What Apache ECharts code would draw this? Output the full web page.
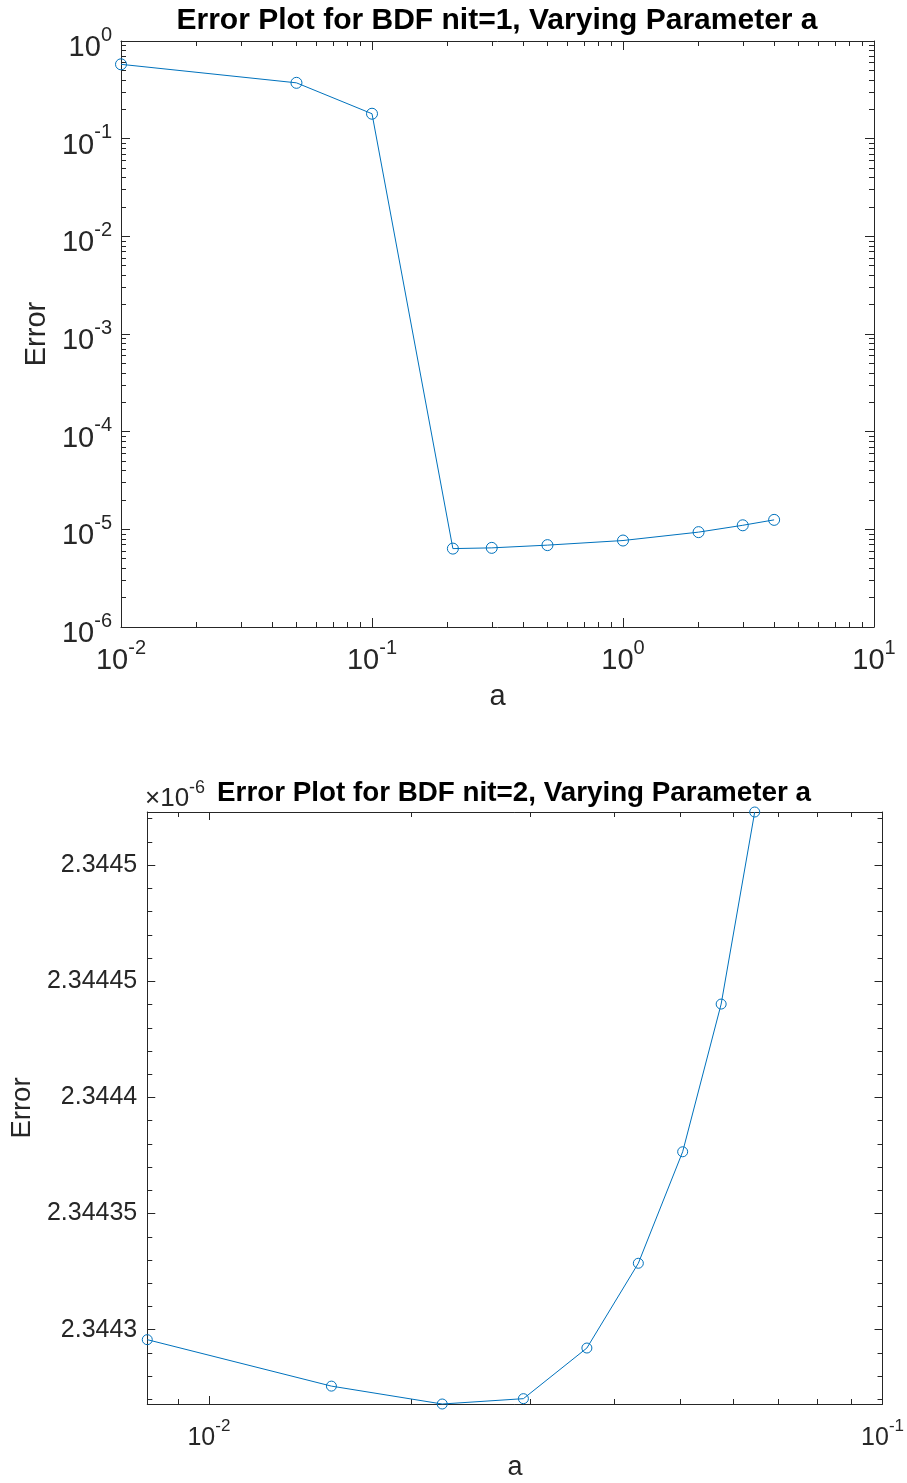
<!DOCTYPE html>
<html>
<head>
<meta charset="utf-8">
<script src="https://cdn.jsdelivr.net/npm/echarts@6/dist/echarts.min.js"></script>
<style>
  html, body { margin: 0; padding: 0; background: #ffffff; }
  #chart { width: 907px; height: 1483px; }
</style>
</head>
<body>
<div id="chart"></div>
<script>
// BDF nit=1: error against parameter a (log-log)
const aNit1 = [0.01, 0.05, 0.1, 0.21, 0.3, 0.5, 1, 2, 3, 4];
const errNit1 = [0.577, 0.373, 0.18, 6.35e-6, 6.46e-6, 6.89e-6, 7.68e-6, 9.36e-6, 1.10e-5, 1.25e-5];

// BDF nit=2: error (in units of 1e-6) against parameter a (log x)
const aNit2 = [0.0081, 0.0152, 0.0222, 0.0293, 0.0364, 0.0434, 0.0505, 0.0576, 0.0646];
const errNit2 = [2.3442957, 2.3442757, 2.3442680, 2.3442703, 2.3442921, 2.3443286, 2.3443766, 2.3444402, 2.3445229];

// Labelled ticks of the linear error axis (units of 1e-6)
const nit2YTicks = [2.3443, 2.34435, 2.3444, 2.34445, 2.3445];

const FONT = "'Liberation Sans', Arial, Helvetica, sans-serif";
const INK = '#262626';
const BLUE = '#0072BD';

// "10^k" labels on decades, nothing elsewhere
function decadeLabel(v) {
  const e = Math.log10(v);
  const r = Math.round(e);
  if (Math.abs(e - r) > 1e-6) return '';
  return '{b|10}{s|' + r + '}';
}
function decadeRich(base, sup) {
  return {
    b: { fontSize: base, lineHeight: Math.round(base * 1.6), fontFamily: FONT, color: INK },
    s: { fontSize: sup, lineHeight: Math.round(sup * 1.18), verticalAlign: 'top', fontFamily: FONT, color: INK }
  };
}

// minor tick positions (as exponents) for decades [e0, e1)
function logMinorExponents(e0, e1, lo, hi) {
  const out = [];
  for (let e = e0; e < e1; e++) {
    for (let m = 2; m <= 9; m++) {
      const p = e + Math.log10(m);
      if (p >= lo - 1e-9 && p <= hi + 1e-9) out.push(p);
    }
  }
  return out;
}

const lineStyleAxis = { color: INK, width: 1 };

function mainAxis(type, grid, position, min, max, tickLen, extra) {
  return Object.assign({
    type: type, gridIndex: grid, position: position, min: min, max: max,
    logBase: 10,
    axisLine: { show: true, onZero: false, lineStyle: lineStyleAxis },
    axisTick: { show: true, inside: true, length: tickLen, lineStyle: lineStyleAxis },
    axisLabel: { show: false },
    splitLine: { show: false },
    minorTick: { show: false },
    minorSplitLine: { show: false }
  }, extra || {});
}

function minorAxis(grid, position, min, max, tickLen, values) {
  return {
    type: 'value', gridIndex: grid, position: position, min: min, max: max,
    axisLine: { show: false, onZero: false },
    axisTick: { show: true, inside: true, length: tickLen, lineStyle: lineStyleAxis, customValues: values },
    axisLabel: { show: false },
    splitLine: { show: false },
    silent: true
  };
}

const x2min = aNit2[0], x2max = 0.1;
const y2min = Math.min.apply(null, errNit2), y2max = Math.max.apply(null, errNit2);

// minor ticks every 1e-5 on the linear axis, skipping labelled ones
const nit2YMinor = [];
for (let k = Math.ceil(y2min * 1e5); k <= Math.floor(y2max * 1e5); k++) {
  const v = k / 1e5;
  if (!nit2YTicks.some(t => Math.abs(t - v) < 1e-9)) nit2YMinor.push(v);
}

// top figure is drawn at a slightly larger text scale than the bottom one
const topXLabel = {
  show: true, formatter: decadeLabel, rich: decadeRich(29, 20), margin: 1,
  padding: [10, 0, 0, 0], hideOverlap: false, showMinLabel: true, showMaxLabel: true
};
const topYLabel = {
  show: true, formatter: decadeLabel, rich: decadeRich(29, 20), margin: 9,
  padding: [14, 0, 0, 0], hideOverlap: false, showMinLabel: true, showMaxLabel: true
};
const botXLabel = {
  show: true, formatter: decadeLabel, rich: decadeRich(25, 17), margin: 2,
  padding: [12, 0, 0, 0], hideOverlap: false, showMinLabel: true, showMaxLabel: true
};

const option = {
  animation: false,
  backgroundColor: '#ffffff',
  title: [
    {
      text: 'Error Plot for BDF nit=1, Varying Parameter a',
      left: 497, top: 21, textAlign: 'center', textVerticalAlign: 'middle', padding: 0,
      textStyle: { fontSize: 30, fontWeight: 'bold', color: '#000000', fontFamily: FONT }
    },
    {
      text: 'Error Plot for BDF nit=2, Varying Parameter a',
      left: 514, top: 793, textAlign: 'center', textVerticalAlign: 'middle', padding: 0,
      textStyle: { fontSize: 27.8, fontWeight: 'bold', color: '#000000', fontFamily: FONT }
    },
    {
      text: '{b|\u00d710}{s|-6}',
      left: 145, top: 799, textAlign: 'left', textVerticalAlign: 'middle', padding: 0,
      textStyle: {
        fontWeight: 'normal',
        rich: {
          b: { fontSize: 26, lineHeight: 40, fontWeight: 'normal', fontFamily: FONT, color: INK },
          s: { fontSize: 18, lineHeight: 21, fontWeight: 'normal', verticalAlign: 'top', fontFamily: FONT, color: INK }
        }
      }
    }
  ],
  grid: [
    { left: 121, top: 41, width: 753, height: 586, containLabel: false },
    { left: 143, top: 812, width: 743, height: 592, containLabel: false }
  ],
  xAxis: [
    // top plot
    mainAxis('log', 0, 'bottom', 0.01, 10, 9, {
      axisLabel: topXLabel,
      name: 'a', nameLocation: 'middle', nameGap: 55,
      nameTextStyle: { fontSize: 29, fontFamily: FONT, color: INK }
    }),
    mainAxis('log', 0, 'top', 0.01, 10, 9),
    minorAxis(0, 'bottom', -2, 1, 5, logMinorExponents(-2, 1, -2, 1)),
    minorAxis(0, 'top', -2, 1, 5, logMinorExponents(-2, 1, -2, 1)),
    // bottom plot
    mainAxis('log', 1, 'bottom', x2min, x2max, 8, {
      axisLabel: botXLabel,
      name: 'a', nameLocation: 'middle', nameGap: 50,
      nameTextStyle: { fontSize: 27, fontFamily: FONT, color: INK }
    }),
    mainAxis('log', 1, 'top', x2min, x2max, 8),
    minorAxis(1, 'bottom', Math.log10(x2min), Math.log10(x2max), 5, logMinorExponents(-3, -1, Math.log10(x2min), -1)),
    minorAxis(1, 'top', Math.log10(x2min), Math.log10(x2max), 5, logMinorExponents(-3, -1, Math.log10(x2min), -1))
  ],
  yAxis: [
    // top plot
    mainAxis('log', 0, 'left', 1e-6, 1, 9, {
      axisLabel: topYLabel,
      name: 'Error', nameLocation: 'middle', nameGap: 70, nameRotate: 90,
      nameTextStyle: { fontSize: 29, fontFamily: FONT, color: INK }
    }),
    mainAxis('log', 0, 'right', 1e-6, 1, 9),
    minorAxis(0, 'left', -6, 0, 5, logMinorExponents(-6, 0, -6, 0)),
    minorAxis(0, 'right', -6, 0, 5, logMinorExponents(-6, 0, -6, 0)),
    // bottom plot
    mainAxis('value', 1, 'left', y2min, y2max, 8, {
      axisTick: { show: true, inside: true, length: 8, lineStyle: lineStyleAxis, customValues: nit2YTicks },
      axisLabel: {
        show: true, customValues: nit2YTicks, margin: 10, hideOverlap: false,
        fontSize: 25, fontFamily: FONT, color: INK,
        formatter: v => String(parseFloat(Number(v).toFixed(6)))
      },
      name: 'Error', nameLocation: 'middle', nameGap: 108, nameRotate: 90,
      nameTextStyle: { fontSize: 27.5, fontFamily: FONT, color: INK }
    }),
    mainAxis('value', 1, 'right', y2min, y2max, 8, {
      axisTick: { show: true, inside: true, length: 8, lineStyle: lineStyleAxis, customValues: nit2YTicks }
    }),
    minorAxis(1, 'left', y2min, y2max, 5, nit2YMinor),
    minorAxis(1, 'right', y2min, y2max, 5, nit2YMinor)
  ],
  series: [
    {
      type: 'line', xAxisIndex: 0, yAxisIndex: 0,
      data: aNit1.map((a, i) => [a, errNit1[i]]),
      symbol: 'circle', symbolSize: 11, showAllSymbol: true,
      lineStyle: { color: BLUE, width: 1 },
      itemStyle: { color: 'rgba(0,0,0,0)', borderColor: BLUE, borderWidth: 1 },
      emphasis: { disabled: true }, clip: false
    },
    {
      type: 'line', xAxisIndex: 4, yAxisIndex: 4,
      data: aNit2.map((a, i) => [a, errNit2[i]]),
      symbol: 'circle', symbolSize: 10, showAllSymbol: true,
      lineStyle: { color: BLUE, width: 1 },
      itemStyle: { color: 'rgba(0,0,0,0)', borderColor: BLUE, borderWidth: 1 },
      emphasis: { disabled: true }, clip: false
    }
  ]
};

const chart = echarts.init(document.getElementById('chart'), null, { renderer: 'canvas' });
chart.setOption(option);
</script>
</body>
</html>
